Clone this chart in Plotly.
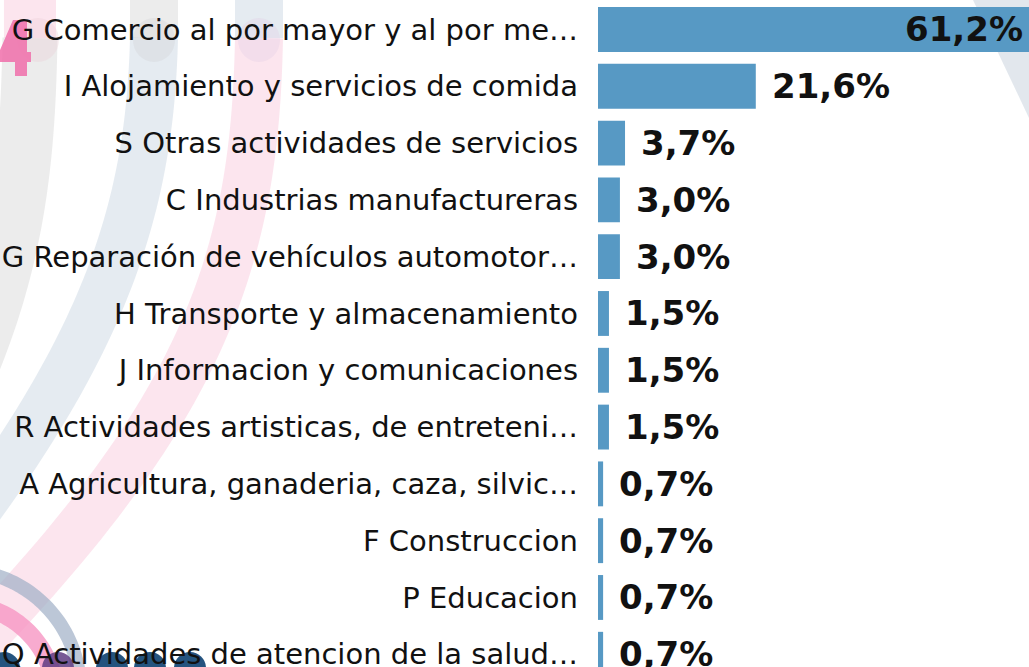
import numpy as np
import plotly.graph_objects as go

categories = [
    "G Comercio al por mayor y al por me…",
    "I Alojamiento y servicios de comida",
    "S Otras actividades de servicios",
    "C Industrias manufactureras",
    "G Reparación de vehículos automotor…",
    "H Transporte y almacenamiento",
    "J Informacion y comunicaciones",
    "R Actividades artisticas, de entreteni…",
    "A Agricultura, ganaderia, caza, silvic…",
    "F Construccion",
    "P Educacion",
    "Q Actividades de atencion de la salud…",
]
values = [61.2, 21.6, 3.7, 3.0, 3.0, 1.5, 1.5, 1.5, 0.7, 0.7, 0.7, 0.7]
value_labels = ["61,2%", "21,6%", "3,7%", "3,0%", "3,0%", "1,5%", "1,5%", "1,5%",
                "0,7%", "0,7%", "0,7%", "0,7%"]

W, H = 1029, 667
L = 598
XMAX = 59.0
BAR_COLOR = "#5799C4"

fig = go.Figure()
fig.add_trace(go.Bar(
    y=categories, x=values, orientation="h",
    marker=dict(color=BAR_COLOR, line=dict(width=0)),
    hoverinfo="skip", showlegend=False,
))

VFONT = dict(family="DejaVu Sans", size=34, color="#111111", weight="bold")
annotations = []
for cat, v, lab in zip(categories, values, value_labels):
    if v > XMAX:
        annotations.append(dict(x=XMAX, y=cat, xref="x", yref="y", text=lab,
                                showarrow=False, xanchor="right", xshift=-4, font=VFONT))
    else:
        annotations.append(dict(x=v, y=cat, xref="x", yref="y", text=lab,
                                showarrow=False, xanchor="left", xshift=14, font=VFONT))

# ---- faint background watermark (decoration) ----
def px(x):
    return (x - L) / (W - L)

def py(y):
    return (H - y) / H

def path_from_pts(pts, close=False):
    s = "M " + " L ".join(f"{px(x):.5f},{py(y):.5f}" for x, y in pts)
    return s + (" Z" if close else "")

def cubic(p0, p1, p2, p3, n=60):
    t = np.linspace(0, 1, n)[:, None]
    p0, p1, p2, p3 = map(np.array, (p0, p1, p2, p3))
    pts = (1 - t) ** 3 * p0 + 3 * (1 - t) ** 2 * t * p1 + 3 * (1 - t) * t ** 2 * p2 + t ** 3 * p3
    return pts.tolist()

def arc(cx, cy, r, a0, a1, n=60):
    a = np.radians(np.linspace(a0, a1, n))
    return [[cx + r * np.cos(t), cy - r * np.sin(t)] for t in a]

shapes = []
def band(pts, color, width):
    shapes.append(dict(type="path", path=path_from_pts(pts), xref="paper", yref="paper",
                       line=dict(color=color, width=width), layer="below"))

PINK = "rgba(250,208,224,0.55)"
GRAY = "rgba(218,218,218,0.5)"
BLUEG = "rgba(208,218,230,0.55)"
# top stubs
band([[30, -20], [30, 38]], PINK, 52)
band([[154, -20], [154, 38]], GRAY, 48)
band([[259, -20], [259, 38]], BLUEG, 48)
# long bands
band(cubic((30, 38), (28, 150), (20, 250), (-30, 370)), GRAY, 55)
band(cubic((154, 38), (150, 200), (110, 330), (-30, 520)), BLUEG, 48)
band(cubic((259, 38), (255, 250), (210, 400), (-20, 640)), PINK, 48)
# circle caps (slightly darker overlap)
for cx, col in [(38, "rgba(235,205,215,0.35)"), (154, "rgba(205,205,210,0.3)"), (259, "rgba(225,205,228,0.35)")]:
    shapes.append(dict(type="circle", xref="paper", yref="paper",
                       x0=px(cx - 21), x1=px(cx + 21), y0=py(62), y1=py(18),
                       fillcolor=col, line=dict(width=0), layer="below"))
# right diagonal
shapes.append(dict(type="path", path=path_from_pts([[973, 0], [1029, 0], [1029, 118]], close=True),
                   xref="paper", yref="paper", fillcolor="rgba(214,221,230,0.7)",
                   line=dict(width=0), layer="below"))
# bottom-left arcs
band(arc(-40, 690, 120, 110, -10), "rgba(160,175,198,0.7)", 14)
band(arc(-40, 700, 96, 110, -10), "rgba(246,150,195,0.8)", 18)
# dark logo fragments at the very bottom
for cx, col in [(4, "rgba(25,75,120,0.95)"), (58, "rgba(95,60,130,0.85)"),
                (112, "rgba(25,75,120,0.95)"), (150, "rgba(25,75,120,0.95)"),
                (190, "rgba(25,75,120,0.95)")]:
    shapes.append(dict(type="circle", xref="paper", yref="paper",
                       x0=px(cx - 16), x1=px(cx + 16), y0=py(684), y1=py(652),
                       fillcolor=col, line=dict(width=0), layer="below"))
# pink "4" fragment
shapes.append(dict(type="path",
                   path=path_from_pts([[13, 20], [27, 20], [27, 52], [31, 52], [31, 62], [27, 62],
                                       [27, 76], [15, 76], [15, 62], [0, 62], [0, 50], [13, 20]],
                                      close=True),
                   xref="paper", yref="paper", fillcolor="rgba(240,110,170,0.85)",
                   line=dict(width=0), layer="below"))

fig.update_layout(
    width=W, height=H,
    margin=dict(l=L, r=0, t=0, b=0, autoexpand=False),
    paper_bgcolor="white", plot_bgcolor="rgba(0,0,0,0)",
    bargap=0.21,
    annotations=annotations,
    shapes=shapes,
    xaxis=dict(range=[0, XMAX], visible=False, fixedrange=True, automargin=False),
    yaxis=dict(categoryorder="array", categoryarray=categories, automargin=False,
               range=[11.224, -0.519], showgrid=False, zeroline=False, showline=False,
               ticks="", ticklabelstandoff=19,
               tickfont=dict(family="DejaVu Sans", size=29, color="#111111")),
)

fig.write_html("out.html", config={"displayModeBar": False},
               post_script="document.body.style.margin='0';document.body.style.overflow='hidden';")
